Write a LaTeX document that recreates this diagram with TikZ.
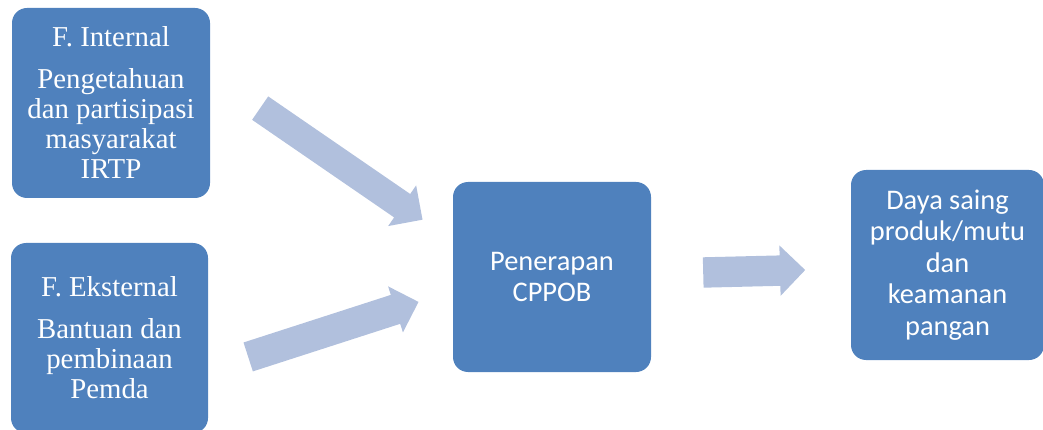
\documentclass[tikz,border=0pt]{standalone}
\usepackage{fontspec}
\setmainfont{Liberation Serif}
\newfontfamily\calibri{Carlito}
\usetikzlibrary{shapes.arrows, positioning}
\definecolor{boxblue}{RGB}{79, 129, 189}
\definecolor{arrowblue}{RGB}{177, 192, 221}

\begin{document}
\begin{tikzpicture}[x=1pt, y=1pt,
    box/.style={rectangle, rounded corners=15pt, fill=boxblue, text=white,
                minimum width=198pt, minimum height=190pt, inner sep=0pt, align=center},
    serifbox/.style={box, font=\fontsize{28.8}{30}\selectfont},
    sansbox/.style={box, font=\calibri\fontsize{28.4}{31.5}\selectfont},
    blockarrow/.style={single arrow, fill=arrowblue, draw=none, inner xsep=0pt,
                single arrow tip angle=90, anchor=tail}]
    \clip (0,0) rectangle (1043,-430);

    % Factors
    \node[serifbox] (internal) at (111,-103) {F. Internal\\[12pt]Pengetahuan\\dan partisipasi\\masyarakat\\IRTP};
    \node[serifbox, minimum width=197pt] (external) at (109.5,-338) {F. Eksternal\\[12pt]Bantuan dan\\pembinaan\\Pemda};

    % Implementation and result
    \node[sansbox] (cppob) at (552,-277) {Penerapan\\CPPOB};
    \node[sansbox, minimum width=193pt] (result) at (947.5,-265) {Daya saing\\produk/mutu\\dan\\keamanan\\pangan};

    % Arrows
    \node[blockarrow, minimum height=197pt, inner ysep=14pt, single arrow head extend=10.5pt,
          rotate=-34.5] (arrowint) at (260,-108) {};
    \node[blockarrow, minimum height=179pt, inner ysep=15pt, single arrow head extend=9pt,
          rotate=17.9] (arrowext) at (248,-357) {};
    \node[blockarrow, minimum height=102pt, inner ysep=15pt, single arrow head extend=10pt,
          rotate=1.4] (arrowres) at (703,-272.5) {};
\end{tikzpicture}
\end{document}
